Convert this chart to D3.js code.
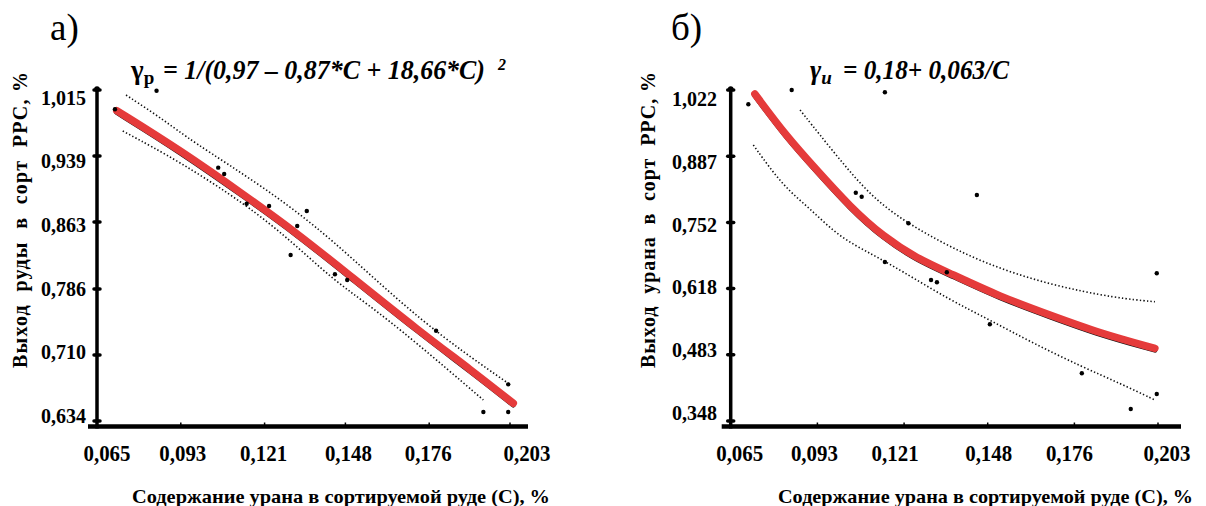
<!DOCTYPE html>
<html><head><meta charset="utf-8">
<script src="https://cdn.jsdelivr.net/npm/d3@7"></script>
<style>body{margin:0;background:#fff;} text{font-family:"Liberation Serif","Times New Roman",serif;}</style>
</head><body>
<script>
// ---------- shared x axis ----------
const ticksC = [0.065, 0.093, 0.121, 0.148, 0.176, 0.203];
const tickLabelsC = ["0,065", "0,093", "0,121", "0,148", "0,176", "0,203"];
const xTitle = "Содержание урана в сортируемой руде (С), %";

// ---------- panel а ----------
const ticksA = [0.634, 0.710, 0.786, 0.863, 0.939, 1.015];
const tickLabelsA = ["0,634", "0,710", "0,786", "0,863", "0,939", "1,015"];
const yTitleA = "Выход  руды  в  сорт  РРС, %";
const pointsA_C = [0.0710, 0.0849, 0.1055, 0.1075, 0.1150, 0.1225, 0.1351, 0.1319, 0.1297, 0.1445, 0.1486, 0.1783, 0.2024, 0.1941, 0.2024];
const pointsA_Y = [0.9928, 1.0142, 0.9256, 0.9183, 0.8841, 0.8815, 0.8757, 0.8584, 0.8251, 0.8029, 0.7963, 0.7379, 0.6762, 0.6444, 0.6444];
const fitA_C = [0.0716, 0.0927, 0.1150, 0.1319, 0.1486, 0.1729, 0.1900, 0.2041];
const fitA_Y = [0.9912, 0.9459, 0.8922, 0.8500, 0.8040, 0.7368, 0.6927, 0.6544];
const upperA_C = [0.0747, 0.0877, 0.0961, 0.1206, 0.1429, 0.1729, 0.2024];
const upperA_Y = [1.0092, 0.9797, 0.9574, 0.9037, 0.8461, 0.7483, 0.6774];
const lowerA_C = [0.0736, 0.0927, 0.1150, 0.1295, 0.1440, 0.1551, 0.1707, 0.1941];
const lowerA_Y = [0.9678, 0.9325, 0.8826, 0.8423, 0.7963, 0.7695, 0.7272, 0.6582];

// ---------- panel б ----------
const ticksB = [0.348, 0.483, 0.618, 0.752, 0.887, 1.022];
const tickLabelsB = ["0,348", "0,483", "0,618", "0,752", "0,887", "1,022"];
const yTitleB = "Выход  урана  в  сорт  РРС, %";
const pointsB_C = [0.0707, 0.0847, 0.1148, 0.1054, 0.1073, 0.1445, 0.1224, 0.1148, 0.1348, 0.1297, 0.1316, 0.1487, 0.1784, 0.2026, 0.2026, 0.1942];
const pointsB_Y = [0.9929, 1.0220, 1.0173, 0.8129, 0.8047, 0.8082, 0.7506, 0.6718, 0.6508, 0.6351, 0.6304, 0.5449, 0.4451, 0.6488, 0.4030, 0.3724];
const fitB_C = [0.0728, 0.0831, 0.0928, 0.1035, 0.1143, 0.1251, 0.1358, 0.1520, 0.1681, 0.1843, 0.2020];
const fitB_Y = [1.0139, 0.9269, 0.8591, 0.7844, 0.7233, 0.6793, 0.6488, 0.6011, 0.5638, 0.5266, 0.4960];
const upperB_C = [0.0874, 0.0998, 0.1122, 0.1283, 0.1466, 0.1681, 0.1897, 0.2020];
const upperB_Y = [0.9813, 0.8829, 0.7913, 0.7268, 0.6691, 0.6249, 0.5979, 0.5909];
const lowerB_C = [0.0723, 0.0820, 0.0906, 0.0998, 0.1111, 0.1197, 0.1358, 0.1487, 0.1627, 0.1784, 0.1907, 0.2020];
const lowerB_Y = [0.9100, 0.8251, 0.7811, 0.7233, 0.6860, 0.6555, 0.5944, 0.5537, 0.5062, 0.4586, 0.4248, 0.3908];

const svg = d3.select("body").append("svg").attr("width", 1206).attr("height", 506);

function panel(o) {
  const g = svg.append("g");
  const x = d3.scaleLinear().domain([ticksC[0], ticksC[5]]).range(o.xRange);
  const y = d3.scaleLinear().domain([o.yTicks[0], o.yTicks[5]]).range([421, 90]);
  const yLab = d3.scaleLinear().domain([o.yTicks[0], o.yTicks[5]]).range(o.yLabRange);
  const x0 = x.range()[0];
  const axisY = 426.5;

  g.append("text").attr("x", o.letterX).attr("y", 40).attr("font-size", 37).text(o.letter);
  o.formula(g);

  const line = d3.line().x(d => x(d[0])).y(d => y(d[1])).curve(d3.curveBasis);
  [[o.upC, o.upY], [o.loC, o.loY]].forEach(([c, v]) => {
    g.append("path").attr("d", line(d3.zip(c, v)))
      .attr("fill", "none").attr("stroke", "#111").attr("stroke-width", 1.6)
      .attr("stroke-dasharray", "1.4 2.2");
  });

  const fit = d3.zip(o.fitC, o.fitY);
  g.append("path").attr("d", line(fit)).attr("fill", "none").attr("stroke", "#111")
    .attr("stroke-width", 5).attr("stroke-linecap", "round").attr("transform", "translate(0,1.8)");
  g.append("path").attr("d", line(fit)).attr("fill", "none").attr("stroke", "#e53b3b")
    .attr("stroke-width", 7.5).attr("stroke-linecap", "round");

  g.selectAll("circle.pt").data(d3.zip(o.pC, o.pY)).join("circle").attr("class", "pt")
    .attr("cx", d => x(d[0])).attr("cy", d => y(d[1])).attr("r", 2.2).attr("fill", "#000");

  g.append("line").attr("x1", x0).attr("x2", x0).attr("y1", 88).attr("y2", axisY + 2)
    .attr("stroke", "#000").attr("stroke-width", 3.5);
  g.append("circle").attr("cx", x0).attr("cy", 89).attr("r", 2.8).attr("fill", "#000");
  g.append("line").attr("x1", x0 - 9).attr("x2", o.xEnd).attr("y1", axisY).attr("y2", axisY)
    .attr("stroke", "#000").attr("stroke-width", 4.5);

  g.selectAll("line.yt").data(o.yTicks).join("line").attr("class", "yt")
    .attr("x1", x0 - 3).attr("x2", x0 + 3).attr("y1", d => y(d)).attr("y2", d => y(d))
    .attr("stroke", "#000").attr("stroke-width", 3.5).attr("stroke-linecap", "round");
  g.selectAll("text.yl").data(o.yTicks).join("text").attr("class", "yl")
    .attr("x", o.yLabRight).attr("y", d => yLab(d)).attr("dy", "0.35em")
    .attr("text-anchor", "end").attr("font-size", 22).attr("font-weight", "bold")
    .attr("textLength", 45).attr("lengthAdjust", "spacingAndGlyphs")
    .text((d, i) => o.yLabels[i]);

  g.selectAll("line.xt").data(ticksC.slice(1)).join("line").attr("class", "xt")
    .attr("x1", d => x(d)).attr("x2", d => x(d)).attr("y1", axisY - 4).attr("y2", axisY)
    .attr("stroke", "#000").attr("stroke-width", 1.5);
  g.selectAll("text.xl").data(ticksC).join("text").attr("class", "xl")
    .attr("x", (d, i) => x(d) + o.xLabShift[i]).attr("y", 461)
    .attr("text-anchor", "middle").attr("font-size", 23).attr("font-weight", "bold")
    .attr("textLength", 47).attr("lengthAdjust", "spacingAndGlyphs")
    .text((d, i) => tickLabelsC[i]);

  g.append("text").attr("x", o.xTitleX).attr("y", 503).attr("font-size", 19).attr("font-weight", "bold")
    .attr("textLength", o.xTitleLen).attr("lengthAdjust", "spacingAndGlyphs").text(xTitle);
  g.append("text").attr("transform", `translate(${o.yTitleX},220) rotate(-90)`)
    .attr("text-anchor", "middle").attr("font-size", 20).attr("font-weight", "bold")
    .style("white-space", "pre").attr("textLength", 296).attr("lengthAdjust", "spacing")
    .text(o.yTitle);
}

panel({
  letter: "а)", letterX: 50, xRange: [97, 510], xEnd: 528,
  yTicks: ticksA, yLabels: tickLabelsA, yLabRange: [415, 97], yLabRight: 86,
  xLabShift: [10, 2, -1, 3, -1, 17], xTitleX: 132, xTitleLen: 418,
  yTitle: yTitleA, yTitleX: 27,
  pC: pointsA_C, pY: pointsA_Y, fitC: fitA_C, fitY: fitA_Y,
  upC: upperA_C, upY: upperA_Y, loC: lowerA_C, loY: lowerA_Y,
  formula: g => {
    const t = g.append("text").attr("x", 131).attr("y", 79).attr("font-size", 27).attr("font-weight", "bold");
    t.append("tspan").text("γ");
    t.append("tspan").attr("font-size", 19).attr("dy", 5).text("р");
    g.append("text").attr("x", 163).attr("y", 79).attr("font-size", 27).attr("font-weight", "bold")
      .attr("font-style", "italic").attr("textLength", 322).attr("lengthAdjust", "spacingAndGlyphs")
      .text("= 1/(0,97 – 0,87*C + 18,66*C)");
    g.append("text").attr("x", 498).attr("y", 70).attr("font-size", 16).attr("font-weight", "bold")
      .attr("font-style", "italic").text("2");
  }
});

panel({
  letter: "б)", letterX: 671, xRange: [730.7, 1158], xEnd: 1181,
  yTicks: ticksB, yLabels: tickLabelsB, yLabRange: [412.5, 98], yLabRight: 717,
  xLabShift: [9, -3, -9, 1, -5, 9], xTitleX: 778, xTitleLen: 415,
  yTitle: yTitleB, yTitleX: 655,
  pC: pointsB_C, pY: pointsB_Y, fitC: fitB_C, fitY: fitB_Y,
  upC: upperB_C, upY: upperB_Y, loC: lowerB_C, loY: lowerB_Y,
  formula: g => {
    const t = g.append("text").attr("x", 810).attr("y", 79).attr("font-size", 27).attr("font-weight", "bold")
      .attr("font-style", "italic");
    t.append("tspan").text("γ");
    t.append("tspan").attr("font-size", 19).attr("dy", 5).text("u");
    g.append("text").attr("x", 843).attr("y", 79).attr("font-size", 27).attr("font-weight", "bold")
      .attr("font-style", "italic").attr("textLength", 166).attr("lengthAdjust", "spacingAndGlyphs")
      .text("= 0,18+ 0,063/C");
  }
});
</script>
</body></html>
